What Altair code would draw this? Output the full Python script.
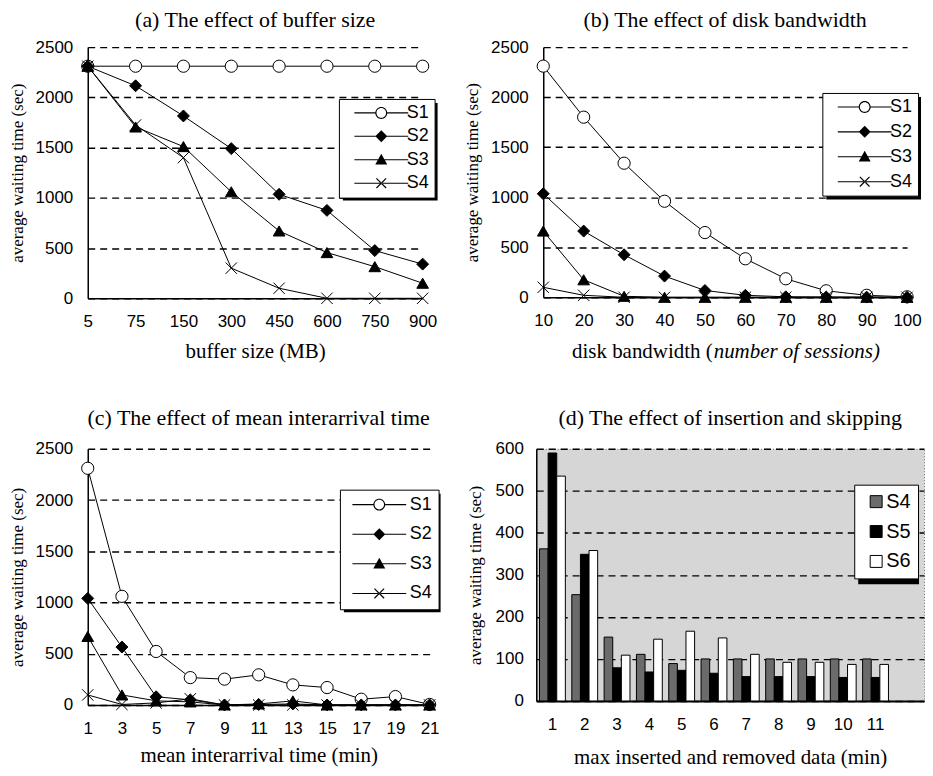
import altair as alt
import pandas as pd

SANS = "Liberation Sans, Arial, sans-serif"
SERIF = "Liberation Serif, Times New Roman, serif"

# ---------------- data ----------------
series4 = ["S1", "S2", "S3", "S4"]

a_x = ["5", "75", "150", "300", "450", "600", "750", "900"]
a_S1 = [2310, 2310, 2310, 2310, 2310, 2310, 2310, 2310]
a_S2 = [2310, 2115, 1815, 1490, 1035, 875, 475, 340]
a_S3 = [2310, 1705, 1510, 1060, 670, 455, 315, 150]
a_S4 = [2310, 1725, 1400, 300, 100, 0, 0, 0]

b_x = [10, 20, 30, 40, 50, 60, 70, 80, 90, 100]
b_S1 = [2310, 1800, 1340, 960, 647, 385, 185, 65, 20, 5]
b_S2 = [1035, 662, 425, 212, 68, 20, 5, 3, 2, 0]
b_S3 = [662, 175, 10, 0, 0, 0, 0, 0, 0, 0]
b_S4 = [100, 20, 0, 0, 0, 0, 0, 0, 0, 0]

c_x = [1, 3, 5, 7, 9, 11, 13, 15, 17, 19, 21]
c_S1 = [2310, 1060, 522, 267, 252, 294, 196, 170, 56, 82, 5]
c_S2 = [1040, 565, 80, 50, 0, 5, 10, 0, 0, 0, 0]
c_S3 = [669, 98, 40, 30, 0, 10, 40, 0, 0, 0, 0]
c_S4 = [98, 5, 20, 60, 0, 0, 0, 0, 0, 0, 0]

d_x = ["1", "2", "3", "4", "5", "6", "7", "8", "9", "10", "11"]
d_domain = d_x + ["12"]
d_series = ["S4", "S5", "S6"]
d_S4 = [362, 253, 152, 111, 89, 100, 100, 100, 100, 100, 100]
d_S5 = [590, 349, 79, 69, 73, 66, 58, 58, 58, 56, 56]
d_S6 = [535, 358, 109, 147, 166, 150, 111, 92, 92, 87, 87]

titles = ["(a) The effect of buffer size", "(b) The effect of disk bandwidth",
          "(c) The effect of mean interarrival time", "(d) The effect of insertion and skipping"]
y_title = "average waiting time (sec)"
b_xtitle_parts = ["disk bandwidth (", "number of sessions)"]


def long_df(xs, cols, names):
    rows = []
    for name, vals in zip(names, cols):
        for xv, yv in zip(xs, vals):
            rows.append({"x": xv, "y": yv, "series": name})
    return pd.DataFrame(rows)


df_a = long_df(a_x, [a_S1, a_S2, a_S3, a_S4], series4)
df_b = long_df(b_x, [b_S1, b_S2, b_S3, b_S4], series4)
df_c = long_df(c_x, [c_S1, c_S2, c_S3, c_S4], series4)
df_d = long_df(d_x, [d_S4, d_S5, d_S6], d_series)

# marker shapes for the plot
XPATH = "M-1,-1L1,1M-1,1L1,-1"
MARKERS = ["circle", "diamond", "triangle-up", XPATH]
# legend glyphs: marker with a line through it, drawn as filled outlines
LINE = "M-4.5,-0.09L4.5,-0.09L4.5,0.09L-4.5,0.09Z"
STUBS = "M-4.5,-0.09L-1,-0.09L-1,0.09L-4.5,0.09ZM1,-0.09L4.5,-0.09L4.5,0.09L1,0.09Z"
RING = "M-1,0A1,1,0,1,1,1,0A1,1,0,1,1,-1,0ZM-0.8,0A0.8,0.8,0,1,0,0.8,0A0.8,0.8,0,1,0,-0.8,0Z"
P1 = STUBS + RING
P2 = LINE + "M0,-1L1,0L0,1L-1,0Z"
P3 = LINE + "M0,-1L1,0.8L-1,0.8Z"
P4 = LINE + ("M-0.88,-0.74L0.74,0.88L0.88,0.74L-0.74,-0.88Z"
             "M-0.88,0.74L0.74,-0.88L0.88,-0.74L-0.74,0.88Z")
LEG_SHAPES = [P1, P2, P3, P4]
FILLS = ["white", "black", "black", "black"]


def title_params(text, offset):
    return alt.TitleParams(text, font=SERIF, fontSize=22, fontWeight="normal", color="black", offset=offset)


def shadow(lx, ly, w, h):
    return alt.Chart(pd.DataFrame({"k": [0]})).mark_rect(color="black").encode(
        x=alt.value(lx + 4), x2=alt.value(lx + w + 4),
        y=alt.value(ly + 4), y2=alt.value(ly + h + 4),
    )


def line_panel(df, xdom, title, toff, xtitle, w, h, lx, ly, lw, lh, rowpad, pad, symoff, laboff,
               xlpad=15, xtpad=11, split=None):
    leg = alt.Legend(
        title=None, orient="none", legendX=lx, legendY=ly,
        fillColor="white", strokeColor="black", padding=pad,
        rowPadding=rowpad, symbolSize=144, symbolOffset=symoff, labelOffset=laboff,
        symbolStrokeWidth=0, symbolOpacity=1,
        labelFont=SANS, labelFontSize=18, labelColor="black",
    )
    x = alt.X("x:O", sort=xdom,
              scale=alt.Scale(type="point", padding=0, domain=xdom),
              axis=alt.Axis(title=xtitle, labelAngle=0, labelPadding=xlpad, titlePadding=xtpad))
    y = alt.Y("y:Q", scale=alt.Scale(domain=[0, 2500]),
              axis=alt.Axis(title=y_title, values=[0, 500, 1000, 1500, 2000, 2500], format="d",
                            grid=True, labelPadding=15, titlePadding=9, titleFontSize=17))
    base = alt.Chart(df)
    lines = base.mark_line(color="black", strokeWidth=1).encode(x=x, y=y, detail="series:N")
    pts = base.mark_point(filled=True, stroke="black", strokeWidth=1, opacity=1).encode(
        x=x, y=y,
        shape=alt.Shape("series:N", sort=series4,
                        scale=alt.Scale(domain=series4, range=MARKERS), legend=None),
        fill=alt.Fill("series:N", sort=series4,
                      scale=alt.Scale(domain=series4, range=FILLS), legend=None),
        size=alt.Size("series:N", scale=alt.Scale(domain=series4, range=[150, 130, 115, 100]), legend=None),
    )
    legend_layer = base.transform_filter("false").mark_point(
        filled=True, opacity=1, strokeWidth=0
    ).encode(
        x=x, y=y,
        shape=alt.Shape("series:N", sort=series4,
                        scale=alt.Scale(domain=series4, range=LEG_SHAPES), legend=leg),
        fill=alt.Fill("series:N", sort=series4,
                      scale=alt.Scale(domain=series4, range=["black"] * 4), legend=leg),
    )
    layers = [shadow(lx, ly, lw, lh), lines, pts, legend_layer]
    if split is not None:
        sx, sy = split
        tdf = pd.DataFrame({"t1": [b_xtitle_parts[0]], "t2": [b_xtitle_parts[1]]})
        t1 = alt.Chart(tdf).mark_text(font=SERIF, fontSize=21, align="right", baseline="middle",
                                      color="black").encode(
            text="t1:N", x=alt.value(sx), y=alt.value(h + sy))
        t2 = alt.Chart(tdf).mark_text(font=SERIF, fontSize=21, fontStyle="italic", align="left",
                                      baseline="middle", color="black").encode(
            text="t2:N", x=alt.value(sx + 1), y=alt.value(h + sy))
        layers += [t1, t2]
    return alt.layer(*layers).resolve_scale(
        shape="independent", fill="independent"
    ).properties(width=w, height=h, title=title_params(title, toff))


pa = line_panel(df_a, a_x, titles[0], 6, "buffer size (MB)",
                336, 252, 252, 52, 95, 98, 5.5, 5, 28.5, 16.5, xlpad=15, xtpad=11)
pb = line_panel(df_b, b_x, titles[1], 6, None,
                365, 251, 280, 46, 95, 103, 7, 5, 28.5, 16.5, split=(170, 55))
pc = line_panel(df_c, c_x, titles[2], 10, "mean interarrival time (min)",
                343, 257, 253, 41, 97, 119, 11.7, 6, 24.5, 21.5, xlpad=16, xtpad=8)

# ---------------- bar panel ----------------
d_lx, d_ly = 319, 36
leg_d = alt.Legend(
    title=None, orient="none", legendX=d_lx, legendY=d_ly,
    fillColor="white", strokeColor="black", padding=7, rowPadding=10,
    symbolType="square", symbolSize=144, symbolStrokeColor="black", symbolStrokeWidth=1,
    symbolOpacity=1, symbolOffset=5, labelOffset=0, labelFont=SANS, labelFontSize=20, labelColor="black",
)
bars = alt.Chart(df_d).mark_bar(stroke="black", strokeWidth=1).encode(
    x=alt.X("x:O", sort=d_domain,
            scale=alt.Scale(domain=d_domain, paddingInner=0.2, paddingOuter=0.1),
            axis=alt.Axis(title="max inserted and removed data (min)", labelAngle=0,
                          labelExpr="datum.value == '12' ? '' : datum.label",
                          labelPadding=16, titlePadding=14, domainWidth=2)),
    xOffset=alt.XOffset("series:N", sort=d_series),
    y=alt.Y("y:Q", scale=alt.Scale(domain=[0, 600]),
            axis=alt.Axis(title=y_title, values=[0, 100, 200, 300, 400, 500, 600],
                          grid=True, labelPadding=13, titlePadding=11, titleFontSize=17)),
    fill=alt.Fill("series:N", sort=d_series,
                  scale=alt.Scale(domain=d_series, range=["#6b6b6b", "#000000", "#ffffff"]),
                  legend=leg_d),
)
pd_chart = alt.layer(shadow(d_lx, d_ly, 61, 96), bars).properties(
    width=389, height=253,
    view=alt.ViewBackground(fill="#d6d6d6", stroke="#666666", strokeDash=[1, 2]),
    title=title_params(titles[3], 10),
)

RES = dict(fill="independent", shape="independent", size="independent")
LRES = dict(fill="independent", shape="independent")
row1 = alt.hconcat(pa, pb, spacing=26).resolve_scale(**RES).resolve_legend(**LRES)
row2 = alt.hconcat(pc, pd_chart, spacing=25).resolve_scale(**RES).resolve_legend(**LRES)
chart = alt.vconcat(row1, row2, spacing=44).resolve_scale(**RES).resolve_legend(**LRES).properties(
    padding={"left": 0, "top": 0, "right": 0, "bottom": 0},
).configure_view(stroke=None).configure_axis(
    labelFont=SANS, labelFontSize=17, labelColor="black",
    titleFont=SERIF, titleFontSize=21, titleFontWeight="normal", titleColor="black",
    domainColor="black", domainWidth=1.5, ticks=False,
    gridColor="black", gridDash=[7, 5], gridWidth=1.4,
)

chart.save("out.html", embed_options={"renderer": "svg", "actions": False})
